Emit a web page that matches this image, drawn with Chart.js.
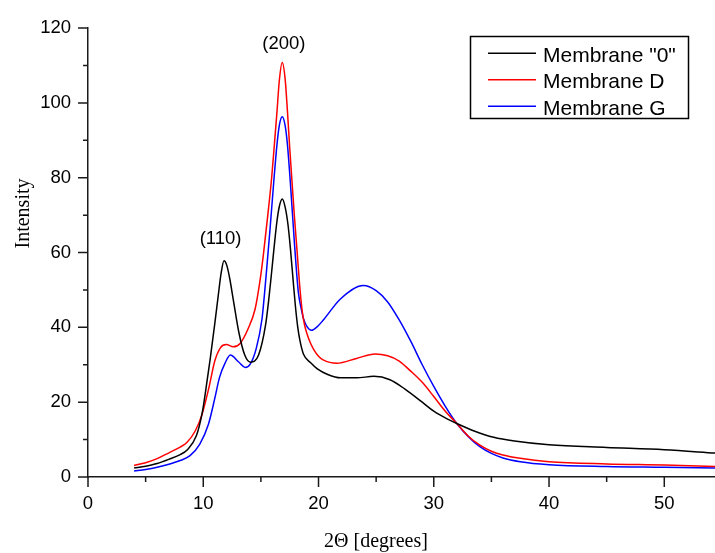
<!DOCTYPE html>
<html>
<head>
<meta charset="utf-8">
<title>XRD patterns</title>
<script src="https://cdn.jsdelivr.net/npm/chart.js@4.4.1/dist/chart.umd.min.js"></script>
<style>
  html, body { margin: 0; padding: 0; background: #fff; }
  canvas { display: block; }
</style>
</head>
<body>
<canvas id="chart"></canvas>
<script>
// 2-theta (degrees) and intensity for each membrane
const theta0 = [4, 5, 6, 7, 8, 8.6, 9.4, 9.9, 10.3, 10.6, 11.0, 11.3, 11.55, 11.8, 12.05, 12.3, 12.6, 13.1, 13.6, 14.1, 14.8, 15.4, 15.65, 15.9, 16.15, 16.4, 16.6, 16.85, 17.1, 17.35, 17.55, 17.8, 18.0, 18.2, 18.4, 18.7, 19.3, 19.9, 20.8, 21.9, 23.3, 24.8, 26.2, 27.5, 29, 30, 31, 32, 33.5, 35.2, 37, 40, 45, 50, 54.4];
const intensity0 = [2.4, 2.9, 3.6, 4.7, 6.0, 7.2, 11, 17, 25, 31.5, 41, 48.5, 54.5, 57.8, 56.5, 53, 47.5, 38.5, 32.6, 30.7, 32.6, 40.5, 46.5, 53.8, 61.5, 68.5, 72.3, 74.3, 72.2, 67.5, 61.5, 52.5, 45.5, 40, 36.3, 32.8, 30.6, 28.9, 27.4, 26.5, 26.5, 26.9, 26.0, 23.5, 20, 17.6, 15.8, 14.3, 12.3, 10.6, 9.6, 8.6, 7.9, 7.3, 6.4];

const thetaD = [4, 5, 6, 7.1, 8, 8.6, 9.3, 9.9, 10.5, 11.0, 11.5, 12.0, 12.6, 13.2, 13.9, 14.5, 14.9, 15.2, 15.6, 15.94, 16.2, 16.4, 16.6, 16.85, 17.1, 17.3, 17.5, 17.7, 17.9, 18.1, 18.4, 18.6, 18.8, 19.0, 19.3, 19.6, 20.0, 20.4, 21.6, 23.3, 24.9, 26.0, 27.0, 28.0, 29.0, 30.0, 31.0, 32.0, 33.0, 34.0, 35.0, 36.0, 37.5, 40, 45, 50, 54.4];
const intensityD = [3.1, 3.8, 4.9, 6.6, 8.0, 9.3, 12.3, 16.8, 24, 31, 34.6, 35.4, 34.8, 35.7, 39.7, 44.9, 52, 59, 70, 80.2, 90, 97.8, 106, 110.8, 106.5, 98, 88, 79, 70, 62, 50, 44, 40.5, 38.3, 35.8, 34, 32.3, 31.3, 30.4, 31.7, 32.9, 32.4, 31.0, 28.3, 25.3, 21.5, 17.6, 14.3, 10.9, 8.5, 6.9, 5.9, 5.0, 4.1, 3.5, 3.2, 2.8];

const thetaG = [4, 5, 6, 7.1, 8, 8.85, 9.7, 10.45, 11.0, 11.4, 11.9, 12.35, 13.05, 13.65, 14.06, 14.6, 15.1, 15.3, 15.5, 15.8, 16.15, 16.4, 16.6, 16.85, 17.1, 17.3, 17.55, 17.9, 18.25, 18.5, 18.7, 19.0, 19.4, 19.9, 20.4, 21.9, 23.9, 25.0, 26.0, 27.0, 28.0, 29.0, 30.0, 31.0, 32.0, 33.0, 34.0, 35.0, 36.0, 37.5, 40, 45, 50, 54.4];
const intensityG = [1.6, 2.0, 2.6, 3.5, 4.4, 5.7, 8.8, 14.1, 21, 26.5, 30.5, 32.6, 30.8, 29.3, 30.1, 34.4, 42.3, 48.5, 55.5, 66.5, 80.2, 89, 94, 96.3, 94, 89, 79, 63, 49.4, 45, 42.3, 40.2, 39.2, 40.2, 41.9, 47.6, 51.2, 49.8, 46.8, 42.0, 36.3, 30.0, 24.2, 18.9, 14.3, 10.8, 8.1, 6.3, 5.1, 4.1, 3.3, 2.8, 2.6, 2.4];

const seriesNames = ['Membrane "0"', 'Membrane D', 'Membrane G'];
const seriesColors = ['#000000', '#ff0000', '#0000ff'];

const xTicks = [0, 10, 20, 30, 40, 50];
const yTicks = [0, 20, 40, 60, 80, 100, 120];

// peak labels: [text, 2theta, intensity]
const peakLabels = [['(110)', 11.5, 63.6], ['(200)', 17.0, 115.9]];

const sans = "'Liberation Sans', Arial, sans-serif";
const serif = "'Liberation Serif', 'Times New Roman', serif";

function toPoints(xs, ys) {
    return xs.map((x, i) => ({ x: x, y: ys[i] }));
}

var ctx = document.getElementById('chart').getContext('2d');
ctx.canvas.width = 715;
ctx.canvas.height = 553;

const extras = {
    id: 'extras',
    afterDraw(chart) {
        const c = chart.ctx;
        const xs = chart.scales.x, ys = chart.scales.y;
        const area = chart.chartArea;
        c.save();
        c.strokeStyle = '#1a1a1a';
        c.lineWidth = 1.5;
        // tick marks, major with labels and minor halfway between
        c.beginPath();
        for (let i = 0; i < xTicks.length; i++) {
            let px = xs.getPixelForValue(xTicks[i]);
            c.moveTo(px, area.bottom);
            c.lineTo(px, area.bottom + 10);
            let mx = xs.getPixelForValue(xTicks[i] + 5);
            if (mx <= area.right) {
                c.moveTo(mx, area.bottom);
                c.lineTo(mx, area.bottom + 5);
            }
        }
        for (let i = 0; i < yTicks.length; i++) {
            let py = ys.getPixelForValue(yTicks[i]);
            c.moveTo(area.left, py);
            c.lineTo(area.left - 10, py);
            if (i < yTicks.length - 1) {
                let my = ys.getPixelForValue(yTicks[i] + 10);
                c.moveTo(area.left, my);
                c.lineTo(area.left - 5, my);
            }
        }
        c.stroke();

        // peak labels
        c.fillStyle = '#000';
        c.font = '18.5px ' + sans;
        c.textAlign = 'center';
        c.textBaseline = 'middle';
        peakLabels.forEach(p => {
            c.fillText(p[0], xs.getPixelForValue(p[1]), ys.getPixelForValue(p[2]));
        });

        // axis titles
        c.font = '20px ' + serif;
        c.textBaseline = 'alphabetic';
        c.fillText('2\u0398 [degrees]', 376, 546.5);
        c.save();
        c.translate(29, 213.5);
        c.rotate(-Math.PI / 2);
        c.fillText('Intensity', 0, 0);
        c.restore();

        // legend box
        c.lineWidth = 1.5;
        c.strokeStyle = '#000';
        c.strokeRect(470.5, 36.5, 218, 82);
        c.font = '21px ' + sans;
        c.textAlign = 'left';
        chart.data.datasets.forEach((ds, i) => {
            let base = 61.5 + i * 26.5;
            c.strokeStyle = ds.borderColor;
            c.lineWidth = 1.5;
            c.beginPath();
            c.moveTo(488, base - 8.3);
            c.lineTo(536, base - 8.3);
            c.stroke();
            c.fillStyle = '#000';
            c.fillText(ds.label, 543, base);
        });
        c.restore();
    }
};

const datasets = [
    toPoints(theta0, intensity0),
    toPoints(thetaD, intensityD),
    toPoints(thetaG, intensityG)
].map((pts, i) => ({
    label: seriesNames[i],
    data: pts,
    borderColor: seriesColors[i],
    borderWidth: 1.5,
    pointRadius: 0,
    fill: false,
    cubicInterpolationMode: 'monotone'
}));

var chart = new Chart(ctx, {
    type: 'line',
    data: { datasets: datasets },
    options: {
        responsive: false,
        animation: false,
        layout: { padding: { top: 23, right: 0, bottom: 0, left: 0 } },
        plugins: {
            legend: { display: false },
            tooltip: { enabled: false }
        },
        scales: {
            x: {
                type: 'linear',
                min: 0,
                max: 54.4,
                afterFit: s => { s.height = 76; },
                afterBuildTicks: s => { s.ticks = xTicks.map(v => ({ value: v })); },
                ticks: { color: '#000', font: { family: sans, size: 18.5 }, padding: 16, maxRotation: 0 },
                grid: { drawOnChartArea: false, drawTicks: false },
                border: { color: '#1a1a1a', width: 1.5 }
            },
            y: {
                type: 'linear',
                min: 0,
                max: 120,
                afterFit: s => { s.width = 88; },
                afterBuildTicks: s => { s.ticks = yTicks.map(v => ({ value: v })); },
                ticks: { color: '#000', font: { family: sans, size: 18.5 }, padding: 17 },
                grid: { drawOnChartArea: false, drawTicks: false },
                border: { color: '#1a1a1a', width: 1.5 }
            }
        }
    },
    plugins: [extras]
});
</script>
</body>
</html>
